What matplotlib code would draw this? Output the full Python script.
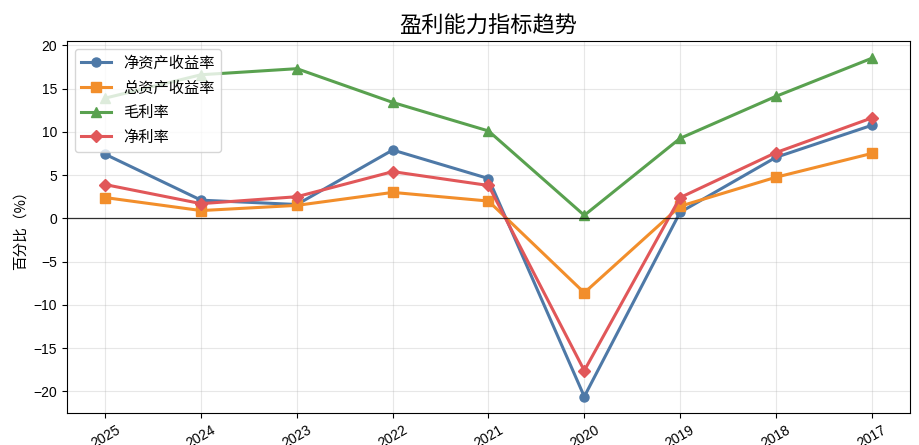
import matplotlib
matplotlib.use("Agg")
import matplotlib.pyplot as plt

plt.rcParams['font.family'] = ['Liberation Sans', 'Noto Sans CJK SC', 'DejaVu Sans']
plt.rcParams['axes.unicode_minus'] = True

years = ["2025", "2024", "2023", "2022", "2021", "2020", "2019", "2018", "2017"]
roe = [7.4, 2.1, 1.6, 7.9, 4.6, -20.6, 0.7, 7.05, 10.75]
roa = [2.4, 0.9, 1.5, 3.0, 2.0, -8.6, 1.4, 4.75, 7.5]
gross = [13.9, 16.6, 17.3, 13.4, 10.1, 0.35, 9.25, 14.1, 18.5]
net = [3.9, 1.7, 2.5, 5.4, 3.8, -17.6, 2.4, 7.6, 11.6]

series = [
    ("净资产收益率", roe, "#4e79a7", "o"),
    ("总资产收益率", roa, "#f28e2b", "s"),
    ("毛利率", gross, "#59a14f", "^"),
    ("净利率", net, "#e15759", "D"),
]

fig = plt.figure(figsize=(9.2, 4.45), dpi=100)
ax = fig.add_axes([67/920, 1-413/445, (910-67)/920, (413-41)/445])

x = list(range(len(years)))
for name, vals, color, marker in series:
    ax.plot(x, vals, color=color, marker=marker, linewidth=2.2, markersize=6.5, label=name)

ax.axhline(0, color="black", linewidth=0.9, alpha=0.8)
ax.set_xticks(x)
ax.set_xticklabels(years, rotation=30)
ax.set_xlim(-0.4, 8.4)
ax.set_ylim(-22.5, 20.5)
ax.set_yticks([-20, -15, -10, -5, 0, 5, 10, 15, 20])
ax.grid(True, color="#b0b0b0", alpha=0.3, linewidth=0.8)
ax.set_title("盈利能力指标趋势", fontsize=16, family=['Noto Sans CJK SC'])
ax.set_ylabel("百分比（%）", fontsize=10.5, family=['Noto Sans CJK SC'])
ax.set_xlabel("年份", fontsize=11, family=['Noto Sans CJK SC'])
ax.tick_params(labelsize=10)
leg = ax.legend(loc="upper left", framealpha=0.8, prop={'family': ['Noto Sans CJK SC'], 'size': 11})

fig.savefig("out.png", dpi=100)
